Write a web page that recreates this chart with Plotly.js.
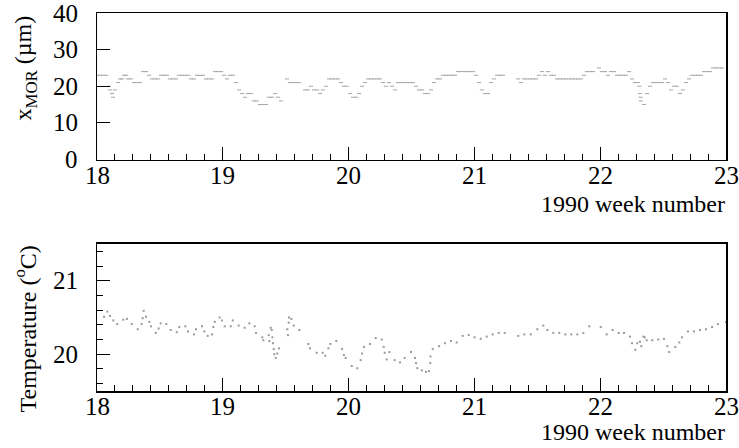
<!DOCTYPE html>
<html>
<head>
<meta charset="utf-8">
<script src="https://cdn.plot.ly/plotly-3.0.1.min.js"></script>
<style>html,body{margin:0;padding:0;background:#fff;}#chart{width:739px;height:448px;}</style>
</head>
<body>
<div id="chart"></div>
<script>
// ---- data ----
var weekMor = [18.000,18.024,18.048,18.072,18.095,18.103,18.119,18.127,18.143,18.167,18.183,18.199,18.215,18.231,18.246,18.270,18.294,18.318,18.342,18.366,18.390,18.413,18.437,18.461,18.485,18.509,18.533,18.556,18.580,18.604,18.628,18.652,18.676,18.700,18.723,18.747,18.771,18.795,18.819,18.843,18.866,18.890,18.914,18.938,18.962,18.986,19.010,19.033,19.057,19.081,19.105,19.129,19.153,19.176,19.200,19.224,19.248,19.272,19.296,19.320,19.343,19.367,19.391,19.415,19.439,19.463,19.510,19.534,19.558,19.582,19.606,19.653,19.677,19.701,19.725,19.749,19.773,19.797,19.820,19.844,19.868,19.892,19.916,19.940,19.963,19.987,20.011,20.035,20.059,20.083,20.107,20.130,20.154,20.178,20.202,20.226,20.250,20.273,20.297,20.321,20.345,20.369,20.393,20.417,20.440,20.464,20.488,20.512,20.536,20.560,20.583,20.607,20.631,20.655,20.679,20.703,20.727,20.750,20.774,20.798,20.822,20.846,20.870,20.893,20.917,20.941,20.965,20.989,21.013,21.037,21.060,21.084,21.108,21.132,21.156,21.180,21.203,21.227,21.347,21.370,21.394,21.418,21.442,21.466,21.490,21.514,21.537,21.561,21.585,21.609,21.633,21.657,21.680,21.704,21.728,21.752,21.776,21.800,21.824,21.847,21.871,21.895,21.919,21.943,21.990,22.014,22.038,22.062,22.086,22.110,22.134,22.157,22.181,22.205,22.229,22.253,22.277,22.300,22.312,22.316,22.320,22.324,22.348,22.372,22.396,22.420,22.443,22.467,22.491,22.515,22.539,22.563,22.587,22.610,22.634,22.658,22.682,22.706,22.730,22.754,22.777,22.801,22.825,22.849,22.873,22.897,22.920,22.944,22.968];
var xMor = [23,23,23,23,20,19,18,17,19,21,22,22,23,23,22,22,21,21,21,24,24,23,22,22,22,23,23,23,22,22,22,23,23,23,23,22,22,23,23,23,22,22,22,24,24,24,23,22,23,23,21,19,18,17,18,18,16,16,15,15,15,17,17,18,17,16,22,21,21,21,21,19,19,20,19,19,18,19,20,22,22,22,22,21,20,20,18,17,17,18,20,21,22,22,22,22,22,21,20,21,20,19,21,21,21,21,21,21,20,19,19,18,18,19,21,22,22,23,23,23,23,23,24,24,24,24,24,24,23,21,19,18,18,21,22,23,23,23,22,21,22,22,22,22,22,23,24,23,24,23,23,22,22,22,22,22,22,22,22,22,23,24,24,24,25,24,24,23,24,24,23,23,23,23,24,22,21,21,20,18,17,16,15,18,20,21,21,21,21,22,21,19,20,20,18,19,21,22,23,23,23,23,24,24,24,25,25,25,25];

var weekTemp = [18.056,18.082,18.103,18.130,18.161,18.209,18.238,18.276,18.324,18.355,18.363,18.371,18.390,18.416,18.429,18.467,18.490,18.506,18.551,18.586,18.634,18.654,18.702,18.723,18.771,18.787,18.835,18.853,18.880,18.914,18.925,18.936,18.975,18.994,19.015,19.063,19.079,19.126,19.174,19.211,19.254,19.264,19.314,19.322,19.365,19.370,19.381,19.389,19.394,19.399,19.405,19.409,19.421,19.433,19.447,19.513,19.518,19.524,19.526,19.545,19.564,19.608,19.680,19.693,19.746,19.794,19.815,19.839,19.855,19.902,19.948,19.963,19.977,20.025,20.069,20.096,20.107,20.122,20.170,20.215,20.263,20.279,20.287,20.303,20.324,20.366,20.409,20.446,20.496,20.528,20.536,20.546,20.583,20.615,20.639,20.649,20.651,20.669,20.719,20.766,20.814,20.859,20.907,20.955,21.002,21.050,21.098,21.145,21.193,21.241,21.349,21.397,21.448,21.500,21.548,21.580,21.627,21.675,21.723,21.770,21.818,21.866,21.913,22.004,22.052,22.099,22.147,22.189,22.237,22.253,22.279,22.295,22.316,22.327,22.343,22.354,22.370,22.414,22.462,22.507,22.534,22.549,22.597,22.629,22.650,22.698,22.746,22.793,22.841,22.889,22.936,23.000];
var tempC = [20.51,20.58,20.52,20.46,20.41,20.47,20.48,20.41,20.34,20.41,20.49,20.59,20.51,20.44,20.38,20.29,20.35,20.42,20.41,20.33,20.30,20.37,20.38,20.31,20.27,20.34,20.38,20.31,20.25,20.27,20.37,20.44,20.50,20.46,20.38,20.38,20.46,20.39,20.36,20.42,20.38,20.29,20.23,20.19,20.26,20.18,20.36,20.33,20.23,20.15,20.07,20.00,19.95,20.01,20.08,20.34,20.26,20.43,20.50,20.48,20.39,20.33,20.14,20.08,20.02,20.02,19.98,20.08,20.14,20.18,20.07,19.99,19.95,19.84,19.81,19.92,20.01,20.10,20.14,20.22,20.20,20.10,20.02,19.93,20.03,19.92,19.89,19.95,20.03,19.95,19.88,19.81,19.78,19.76,19.77,19.88,19.97,20.07,20.11,20.15,20.18,20.16,20.25,20.26,20.23,20.21,20.24,20.27,20.29,20.29,20.25,20.27,20.27,20.34,20.39,20.33,20.29,20.29,20.27,20.27,20.27,20.29,20.38,20.37,20.27,20.33,20.29,20.29,20.24,20.15,20.06,20.15,20.17,20.11,20.24,20.23,20.19,20.19,20.20,20.21,20.11,20.03,20.10,20.16,20.23,20.31,20.31,20.33,20.34,20.37,20.41,20.44];

var weekTicks = [18,19,20,21,22,23];
var morTicks = [0,10,20,30,40];
var tempTicks = [20,21];
var xTitle = '1990 week number';
var morTitle = 'x<sub>MOR</sub> (µm)';
var tempTitle = 'Temperature (<sup>o</sup>C)';

// ---- chart ----
var FONT = 'Liberation Serif';
var TICKSIZE = 25;
var traces = [
  {x: weekMor, y: xMor, xaxis: 'x', yaxis: 'y', type: 'scatter', mode: 'markers',
   marker: {symbol: 'line-ew', size: 3, line: {width: 1, color: '#a6a6a6'}}, hoverinfo: 'x+y'},
  {x: weekTemp, y: tempC, xaxis: 'x2', yaxis: 'y2', type: 'scatter', mode: 'markers',
   marker: {symbol: 'square', size: 2, color: '#9a9a9a', line: {width: 0}}, hoverinfo: 'x+y'}
];

function xAxis(anchor) {
  return {
    anchor: anchor, domain: [0, 1], range: [18, 23],
    tickmode: 'array', tickvals: weekTicks, showticklabels: false,
    ticks: 'inside', ticklen: 13, tickwidth: 1, tickcolor: '#000',
    minor: {tick0: 18, dtick: 1 / 7, ticks: 'inside', ticklen: 6, tickwidth: 1, tickcolor: '#000', showgrid: false},
    showline: true, linecolor: '#000', linewidth: 1.5, mirror: true,
    showgrid: false, zeroline: false
  };
}

// tick labels drawn as annotations (so the serif face is used)
var annotations = [];
weekTicks.forEach(function (w) {
  annotations.push({text: String(w), xref: 'x', yref: 'paper', x: w, y: 0.571, xanchor: 'center', yanchor: 'middle',
    showarrow: false, font: {family: FONT, size: TICKSIZE, color: '#000'}});
  annotations.push({text: String(w), xref: 'x2', yref: 'paper', x: w, y: -0.040, xanchor: 'center', yanchor: 'middle',
    showarrow: false, font: {family: FONT, size: TICKSIZE, color: '#000'}});
});
morTicks.forEach(function (v) {
  annotations.push({text: String(v), xref: 'paper', yref: 'y', x: -0.027, y: v, xanchor: 'right', yanchor: 'middle',
    showarrow: false, font: {family: FONT, size: TICKSIZE, color: '#000'}});
});
tempTicks.forEach(function (v) {
  annotations.push({text: String(v), xref: 'paper', yref: 'y2', x: -0.027, y: v, xanchor: 'right', yanchor: 'middle',
    showarrow: false, font: {family: FONT, size: TICKSIZE, color: '#000'}});
});
annotations.push(
  {text: xTitle, xref: 'paper', yref: 'paper', x: 1.002, y: 0.496, xanchor: 'right', yanchor: 'middle',
   showarrow: false, font: {family: FONT, size: 24, color: '#000'}},
  {text: xTitle, xref: 'paper', yref: 'paper', x: 1.002, y: -0.108, xanchor: 'right', yanchor: 'middle',
   showarrow: false, font: {family: FONT, size: 24, color: '#000'}},
  {text: morTitle, xref: 'paper', yref: 'paper', x: -0.1145, y: 1.0, xanchor: 'center', yanchor: 'top',
   textangle: -90, showarrow: false, font: {family: FONT, size: 24, color: '#000'}},
  {text: tempTitle, xref: 'paper', yref: 'paper', x: -0.1145, y: 0.3915, xanchor: 'center', yanchor: 'top',
   textangle: -90, showarrow: false, font: {family: FONT, size: 24, color: '#000'}}
);

var layout = {
  width: 739, height: 448,
  margin: {l: 97, r: 13, t: 13, b: 57},
  paper_bgcolor: '#fff', plot_bgcolor: '#fff',
  showlegend: false,
  font: {family: FONT, color: '#000'},
  xaxis: xAxis('y'),
  xaxis2: xAxis('y2'),
  yaxis: {
    anchor: 'x', domain: [0.6124, 1], range: [0, 40],
    tickmode: 'array', tickvals: morTicks, showticklabels: false,
    ticks: 'inside', ticklen: 13, tickwidth: 1, tickcolor: '#000',
    showline: true, linecolor: '#000', linewidth: 1.5, mirror: true,
    showgrid: false, zeroline: false
  },
  yaxis2: {
    anchor: 'x2', domain: [0, 0.389], range: [19.5, 21.5],
    tickmode: 'array', tickvals: tempTicks, showticklabels: false,
    ticks: 'inside', ticklen: 13, tickwidth: 1, tickcolor: '#000',
    minor: {tick0: 20, dtick: 0.2, ticks: 'inside', ticklen: 6, tickwidth: 1, tickcolor: '#000', showgrid: false},
    showline: true, linecolor: '#000', linewidth: 1.5, mirror: true,
    showgrid: false, zeroline: false
  },
  annotations: annotations
};

Plotly.newPlot('chart', traces, layout, {displayModeBar: false, staticPlot: true});
</script>
</body>
</html>
